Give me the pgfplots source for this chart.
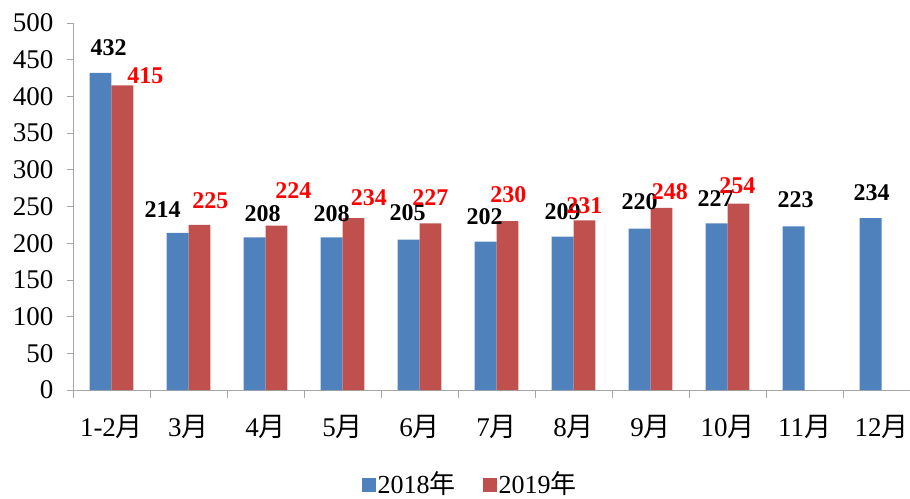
\documentclass[border=0pt]{standalone}
\usepackage{fontspec}
\setmainfont{Liberation Serif}
\newfontfamily\cjk{Noto Sans CJK SC}
\usepackage{pgfplots}
\usepackage{pgfplotstable}
\pgfplotsset{compat=1.18}
\definecolor{b18}{RGB}{79,129,189}
\definecolor{r19}{RGB}{192,80,77}
\pgfplotstableread{
x y dx dy
0 432 8 17
1 214 -15 15
2 208 8 15
3 208 0 15
4 205 -1 19
5 202 -1 17
6 209 0 17
7 220 0 19
8 227 -1 17
9 223 2 18
10 234 1 17
}\tblA
\pgfplotstableread{
x y dx dy
0 415 23 1
1 225 11 16
2 224 17 27
3 234 15.5 12
4 227 0 18
5 230 1 18
6 231 0 7
7 248 8.5 8
8 254 -1 10
}\tblB
\pgfplotsset{lbl/.style={nodes near coords,
  visualization depends on={\thisrow{dx}\as\dx},
  visualization depends on={\thisrow{dy}\as\dy},
  every node near coord/.append style={font=\bfseries\fontsize{24}{24}\selectfont, anchor=south, inner sep=0pt, xshift=\dx*1pt, yshift=\dy*1pt, text=#1}}}
\begin{document}
\begin{tikzpicture}
\useasboundingbox (-73pt,-108pt) rectangle (837pt,390pt);
\begin{axis}[
  at={(0pt,0pt)}, anchor=south west,
  scale only axis, width=847pt, height=367pt,
  ymin=0, ymax=500, ytick={0,50,...,500},
  xmin=-0.5, xmax=10.5,
  xtick={0,...,10},
  xticklabels={1-2{\cjk 月},3{\cjk 月},4{\cjk 月},5{\cjk 月},6{\cjk 月},7{\cjk 月},8{\cjk 月},9{\cjk 月},10{\cjk 月},11{\cjk 月},12{\cjk 月}},
  minor xtick={-0.5,0.5,...,10.5},
  x tick style={draw=none},
  minor x tick style={draw=gray!70, line width=0.8pt},
  minor tick length=8pt,
  y tick style={draw=gray!70, line width=0.8pt},
  major tick length=6pt,
  tick align=outside,
  axis x line*=bottom, axis y line*=left,
  axis line style={gray!70, line width=0.8pt, -},
  /pgf/number format/assume math mode=true,
  tick label style={font=\fontsize{27}{27}\selectfont},
  xticklabel style={yshift=-16pt},
  yticklabel style={xshift=-10pt},
  ybar=0pt, bar width=0.285,
  legend style={at={(0.469,-0.255)}, anchor=center, draw=none, font=\fontsize{26}{26}\selectfont, legend columns=2, /tikz/every even column/.append style={column sep=25pt}},
  legend image code/.code={\fill[#1] (0pt,-8pt) rectangle (14pt,6pt);},
]
\addplot[fill=b18, draw=none, lbl=black] table[x=x,y=y] {\tblA};
\addlegendentry{2018{\cjk 年}}
\addplot[fill=r19, draw=none, lbl=red] table[x=x,y=y] {\tblB};
\addlegendentry{2019{\cjk 年}}
\end{axis}
\end{tikzpicture}
\end{document}
